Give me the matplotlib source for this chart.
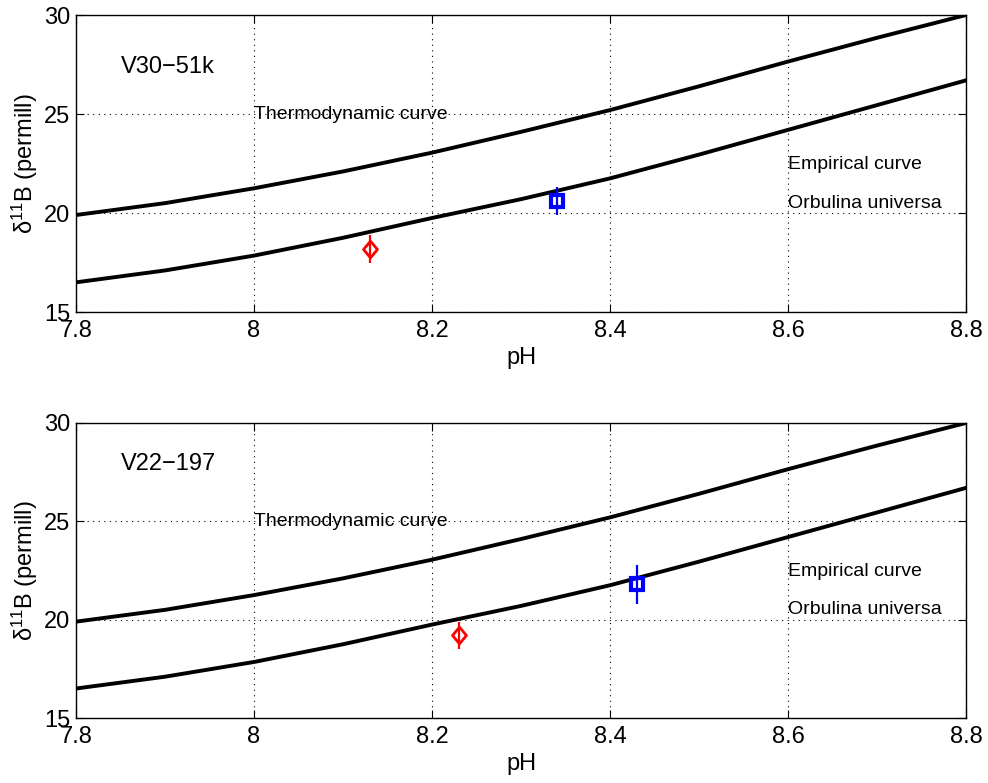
import matplotlib
matplotlib.use("Agg")
import matplotlib.pyplot as plt
from matplotlib.path import Path

plt.rcParams['font.family'] = ['Liberation Sans', 'DejaVu Sans']
plt.rcParams['mathtext.fontset'] = 'custom'
plt.rcParams['mathtext.rm'] = 'Liberation Sans'
plt.rcParams['mathtext.it'] = 'Liberation Sans:italic'

# boron isotope curves vs pH
ph = [7.8, 7.9, 8.0, 8.1, 8.2, 8.3, 8.4, 8.5, 8.6, 8.7, 8.8]
thermo = [19.9, 20.5, 21.25, 22.1, 23.05, 24.1, 25.2, 26.4, 27.65, 28.85, 30.0]
empir = [16.5, 17.1, 17.85, 18.75, 19.75, 20.7, 21.75, 22.95, 24.2, 25.45, 26.7]

cores = ["V30\u221251k", "V22\u2212197"]
pts_ph = [[8.13, 8.34], [8.23, 8.43]]
pts_d11b = [[18.2, 20.6], [19.2, 21.8]]
pts_err = [[0.7, 0.7], [0.7, 1.0]]
core_y = [27.4, 27.9]

# tall diamond like the MATLAB one
diamond = Path([(0, -1.2), (1, 0), (0, 1.2), (-1, 0), (0, -1.2)],
               [Path.MOVETO, Path.LINETO, Path.LINETO, Path.LINETO, Path.CLOSEPOLY])

fig = plt.figure(figsize=(9.88, 7.83), dpi=100)
boxes = [[0.077, 0.6015, 0.9007, 0.3793], [0.077, 0.083, 0.9007, 0.3768]]

for i in range(2):
    ax = fig.add_axes(boxes[i])
    ax.plot(ph, thermo, color='k', lw=2.8)
    ax.plot(ph, empir, color='k', lw=2.8)
    ax.errorbar(pts_ph[i][0], pts_d11b[i][0], yerr=pts_err[i][0], fmt='none',
                ecolor='r', elinewidth=1.6, capsize=0)
    ax.plot(pts_ph[i][0], pts_d11b[i][0], marker=diamond, ls='none',
            mfc='none', mec='r', ms=12, mew=2)
    ax.errorbar(pts_ph[i][1], pts_d11b[i][1], yerr=pts_err[i][1], fmt='none',
                ecolor='b', elinewidth=1.6, capsize=0)
    ax.plot(pts_ph[i][1], pts_d11b[i][1], marker='s', ls='none',
            mfc='none', mec='b', ms=8, mew=3)
    ax.text(7.85, core_y[i], cores[i], fontsize=17, va='center')
    ax.text(8.0, 25.0, "Thermodynamic curve", fontsize=14, va='center')
    ax.text(8.6, 22.45, "Empirical curve", fontsize=14, va='center')
    ax.text(8.6, 20.5, "Orbulina universa", fontsize=14, va='center')
    ax.set_xlim(7.8, 8.8)
    ax.set_ylim(15, 30)
    ax.set_xticks([7.8, 8.0, 8.2, 8.4, 8.6, 8.8])
    ax.set_xticklabels(["7.8", "8", "8.2", "8.4", "8.6", "8.8"])
    ax.set_yticks([15, 20, 25, 30])
    ax.grid(True, color='k', linestyle=(0, (1, 4)), linewidth=0.8)
    ax.tick_params(direction='in', labelsize=17, length=6, top=True, right=True)
    ax.tick_params(axis='x', pad=6)
    ax.tick_params(axis='y', pad=4)
    ax.set_xlabel("pH", fontsize=17, labelpad=3)
    ax.set_ylabel("\u03b4$^{11}$B (permill)", fontsize=17, labelpad=3)
    for s in ax.spines.values():
        s.set_linewidth(1.0)

fig.savefig("out.png", dpi=100)
